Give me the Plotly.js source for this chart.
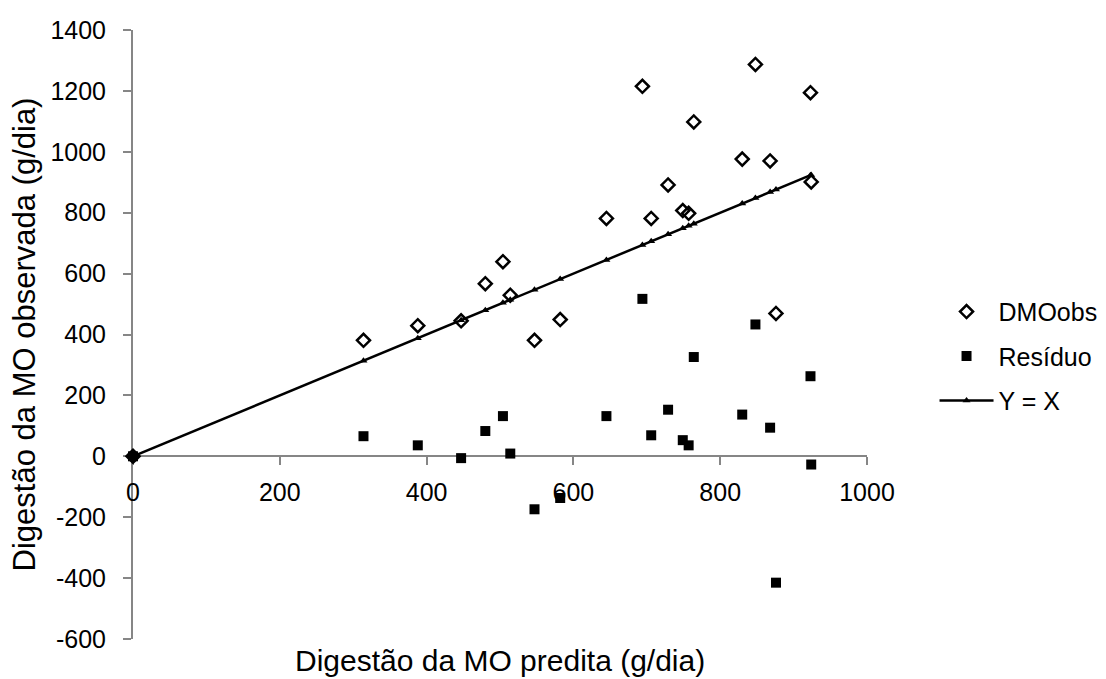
<!DOCTYPE html>
<html>
<head>
<meta charset="utf-8">
<script src="https://cdn.plot.ly/plotly-3.0.1.min.js"></script>
<style>
  html, body { margin: 0; padding: 0; background: #fff; }
  #chart { width: 1106px; height: 679px; }
</style>
</head>
<body>
<div id="chart"></div>
<script>
// Predicted digestion (x) shared by all series
const predita = [0, 314, 388, 447, 480, 504, 514, 547, 582, 645, 694, 706, 729, 749, 757, 764, 830, 848, 868, 876, 923, 924];
// Observed digestion (DMOobs)
const dmoObs = [0, 381, 429, 445, 567, 639, 529, 381, 449, 781, 1215, 781, 891, 807, 798, 1098, 976, 1287, 970, 469, 1194, 901];
// Residual
const residuo = [0, 66, 36, -6, 83, 132, 9, -174, -137, 132, 517, 69, 153, 53, 36, 326, 137, 433, 94, -415, 263, -27];
// Y = X reference line
const linhaX = [0, 314, 388, 447, 480, 504, 514, 547, 582, 645, 694, 706, 729, 749, 757, 764, 830, 848, 868, 876, 923, 924];
const linhaY = [0, 314, 388, 447, 480, 504, 514, 547, 582, 645, 694, 706, 729, 749, 757, 764, 830, 848, 868, 876, 923, 924];

const xTicks = [0, 200, 400, 600, 800, 1000];
const yTicks = [-600, -400, -200, 0, 200, 400, 600, 800, 1000, 1200, 1400];

const seriesNames = ['DMOobs', 'Resíduo', 'Y = X'];
const xTitle = 'Digestão da MO predita (g/dia)';
const yTitle = 'Digestão da MO observada (g/dia)';

const FONT = 'Liberation Sans, Arial, sans-serif';
const AXIS_GRAY = '#868686';

const traces = [
  {
    x: predita, y: dmoObs, name: seriesNames[0], type: 'scatter', mode: 'markers',
    legendgroup: 'a', cliponaxis: false,
    marker: { symbol: 'diamond-open', size: 10, color: '#000', line: { color: '#000', width: 2.5 } }
  },
  {
    x: predita, y: residuo, name: seriesNames[1], type: 'scatter', mode: 'markers',
    legendgroup: 'b', cliponaxis: false,
    marker: { symbol: 'square', size: 10, color: '#000', line: { width: 0 } }
  },
  {
    x: linhaX, y: linhaY, name: seriesNames[2], type: 'scatter', mode: 'lines+markers',
    legendgroup: 'c', cliponaxis: false,
    line: { color: '#000', width: 2.5 },
    marker: { symbol: 'triangle-up', size: 7, color: '#000' }
  }
];

const layout = {
  width: 1106, height: 679,
  margin: { l: 133, r: 239, t: 30, b: 40, pad: 0, autoexpand: false },
  paper_bgcolor: '#fff', plot_bgcolor: '#fff',
  font: { family: FONT, size: 25, color: '#000' },
  showlegend: true,
  legend: {
    x: 1.092, xanchor: 'left', y: 0.575, yanchor: 'top',
    itemwidth: 54,
    font: { family: FONT, size: 25, color: '#000' },
    tracegroupgap: 9, bgcolor: 'rgba(0,0,0,0)', borderwidth: 0
  },
  xaxis: {
    range: [0, 1000], tickvals: xTicks, ticktext: xTicks.map(String),
    anchor: 'free', position: 0.3,
    showline: true, linecolor: AXIS_GRAY, linewidth: 2,
    ticks: 'outside', ticklen: 8, tickwidth: 2, tickcolor: AXIS_GRAY,
    ticklabelstandoff: 6,
    showgrid: false, zeroline: false, layer: 'below traces',
    tickfont: { family: FONT, size: 25, color: '#000' }
  },
  yaxis: {
    range: [-600, 1400], tickvals: yTicks, ticktext: yTicks.map(String),
    domain: [0, 1],
    showline: true, linecolor: AXIS_GRAY, linewidth: 2,
    ticks: 'outside', ticklen: 8, tickwidth: 2, tickcolor: AXIS_GRAY,
    ticklabelstandoff: 12,
    showgrid: false, zeroline: false, layer: 'below traces',
    tickfont: { family: FONT, size: 25, color: '#000' },
    title: { text: yTitle, font: { family: FONT, size: 31, color: '#000' }, standoff: 6 }
  },
  annotations: [
    {
      text: xTitle, xref: 'paper', yref: 'paper', x: 0.5, y: -0.0345,
      xanchor: 'center', yanchor: 'middle', showarrow: false,
      font: { family: FONT, size: 30, color: '#000' }
    }
  ]
};

Plotly.newPlot('chart', traces, layout, { displayModeBar: false, staticPlot: true });
</script>
</body>
</html>
